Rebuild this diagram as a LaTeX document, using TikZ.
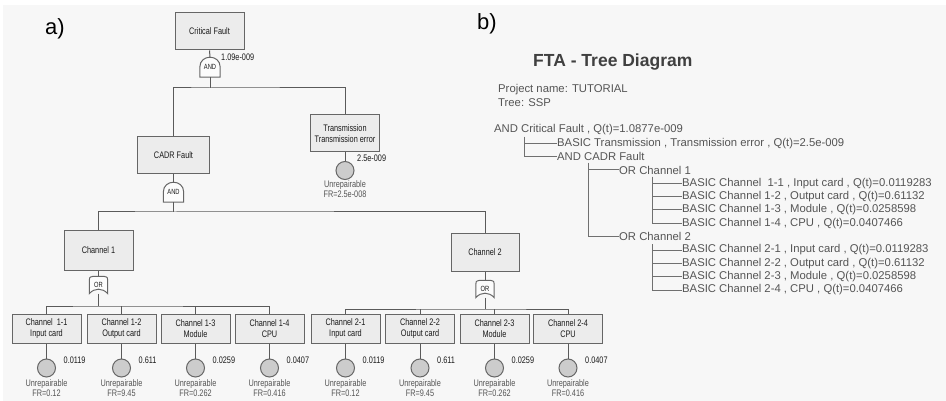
\documentclass[tikz,border=0pt]{standalone}
\usepackage{fontspec}
\setmainfont{Liberation Sans}
\newfontfamily\narrowf[FakeStretch=0.77]{Liberation Sans}
\definecolor{bgc}{HTML}{F7F7F7}
\definecolor{boxfill}{HTML}{ECECEC}
\definecolor{boxline}{HTML}{666666}
\definecolor{wire}{HTML}{5A5A5A}
\definecolor{evfill}{HTML}{CCCCCC}
\definecolor{txt}{HTML}{1A1A1A}
\definecolor{ltxt}{HTML}{555555}
\definecolor{rtxt}{HTML}{555555}
\definecolor{tline}{HTML}{707070}
\pgfdeclarelayer{back}
\pgfdeclarelayer{mid}
\pgfsetlayers{back,mid,main}
\newcommand\drawandgate[1]{%
  \draw[gateshape] (#1.south west) -- ([shift={(0,-10)}]#1.south west)
    .. controls ([shift={(0,-23.3)}]#1.south west) and ([shift={(0,-23.3)}]#1.south east) .. ([shift={(0,-10)}]#1.south east)
    -- (#1.south east) -- cycle;}
\newcommand\droworgate[1]{%
  \draw[gateshape] (#1.south west) -- ([shift={(0,4)}]#1.north west)
    .. controls ([shift={(0,1)}]#1.north west) .. ([shift={(4,0)}]#1.north west)
    -- ([shift={(-4,0)}]#1.north east)
    .. controls ([shift={(0,1)}]#1.north east) .. ([shift={(0,4)}]#1.north east)
    -- (#1.south east)
    .. controls ([shift={(-5,-6)}]#1.south east) and ([shift={(5,-6)}]#1.south west) .. (#1.south west) -- cycle;}
\tikzset{
  box/.style={draw=boxline, fill=boxfill, line width=1pt, minimum width=69, minimum height=37,
    inner sep=0, align=center, text=txt, font=\narrowf\fontsize{9.5}{11}\selectfont},
  sbox/.style={box, minimum height=29},
  gatenode/.style={minimum width=20, minimum height=20, inner sep=0, text=txt,
    font=\narrowf\fontsize{7.5}{8}\selectfont},
  ornode/.style={gatenode, minimum width=18, minimum height=17},
  gateshape/.style={draw=boxline, fill=white!60!bgc, line width=1pt},
  evt/.style={circle, draw=boxline, fill=evfill, line width=1pt, minimum size=18, inner sep=0},
  wirel/.style={draw=wire, line width=1pt},
  val/.style={anchor=west, inner sep=0, text=txt, font=\narrowf\fontsize{9.5}{10}\selectfont},
  lbl/.style={inner sep=0, align=center, text=ltxt, font=\narrowf\fontsize{9.5}{10}\selectfont},
  tree/.style={anchor=west, inner sep=0, text=rtxt, font=\fontsize{11.3}{13}\selectfont},
  treeline/.style={draw=tline, line width=1pt},
  panel/.style={anchor=west, inner sep=0, text=black, font=\fontsize{22}{24}\selectfont}
}
\begin{document}
\begin{tikzpicture}[x=1pt,y=-1pt]
\begin{pgfonlayer}{back}
  \fill[white] (0,0) rectangle (946,401);
  \fill[bgc] (3,5) rectangle (946,401);
\end{pgfonlayer}
\useasboundingbox (0,0) rectangle (946,401);

% panel labels
\node[panel] (pa) at (45,29) {a)};
\node[panel] (pb) at (477,24) {b)};

% ---------- a) fault tree ----------
\node[box] (cf) at (209.5,31.5) {Critical Fault};
\node[gatenode] (g0) at (210,67) {AND};
\node[val] (v0) at (221,57) {1.09e-009};
\coordinate (j0) at (210,88);

\node[box] (tr) at (345,133.5) {Transmission\\Transmission error};
\node[evt] (e0) at (345,170.5) {};
\node[val] (vtr) at (357,158) {2.5e-009};
\node[lbl] (ltr) at (345,189.5) {Unrepairable\\FR=2.5e-008};

\node[box, minimum width=72] (cadr) at (173.5,155) {CADR Fault};
\node[gatenode] (g1) at (173.5,192) {AND};
\coordinate (j1) at (173.5,212);

\node[box, minimum height=39] (ch1) at (98.5,250.5) {Channel 1};
\node[ornode] (g2) at (98.5,285) {OR};
\coordinate (j2) at (98.5,306);

\node[box, minimum width=68] (ch2) at (485,252.5) {Channel 2};
\node[ornode] (g3) at (485,289) {OR};
\coordinate (j3) at (485,309);

% bottom level
\foreach \n/\x/\t/\v/\fr in {
  c11/46.5/{Channel\ \ 1-1\\Input card}/0.0119/0.12,
  c12/121.5/{Channel 1-2\\Output card}/0.611/9.45,
  c13/195.5/{Channel 1-3\\Module}/0.0259/0.262,
  c14/269.5/{Channel 1-4\\CPU}/0.0407/0.416,
  c21/345.5/{Channel 2-1\\Input card}/0.0119/0.12,
  c22/420/{Channel 2-2\\Output card}/0.611/9.45,
  c23/494.5/{Channel 2-3\\Module}/0.0259/0.262,
  c24/568/{Channel 2-4\\CPU}/0.0407/0.416}{
  \node[sbox] (\n) at (\x,328.5) {\t};
  \node[evt] (e\n) at (\x,368) {};
  \node[val] (v\n) at (\x+17,360) {\v};
  \node[lbl] (l\n) at (\x,388) {Unrepairable\\FR=\fr};
  \draw[wirel] (\n.south) -- (e\n.north);
}

% wires
\draw[wirel] (cf.south) -- (g0.north);
\draw[wirel] (g0.south) -- (j0);
\draw[wirel] (cadr.north) |- (j0) -| (tr.north);
\draw[wirel] (tr.south) -- (e0.north);
\draw[wirel] (cadr.south) -- (g1.north);
\draw[wirel] (g1.south) -- (j1);
\draw[wirel] (ch1.north) |- (j1) -| (ch2.north);
\draw[wirel] (ch1.south) -- (g2.north);
\draw[wirel] (g2.south) -- (j2);
\draw[wirel] (c11.north) |- (j2) -| (c14.north);
\draw[wirel] (c12.north) -- (c12.north |- j2);
\draw[wirel] (c13.north) -- (c13.north |- j2);
\draw[wirel] (ch2.south) -- (g3.north);
\draw[wirel] (g3.south) -- (j3);
\draw[wirel] (c21.north) |- (j3) -| (c24.north);
\draw[wirel] (c22.north) -- (c22.north |- j3);
\draw[wirel] (c23.north) -- (c23.north |- j3);

\begin{pgfonlayer}{mid}
  \drawandgate{g0}
  \drawandgate{g1}
  \droworgate{g2}
  \droworgate{g3}
\end{pgfonlayer}

% ---------- b) tree listing ----------
\node[anchor=west, inner sep=0, text=black!75, font=\bfseries\fontsize{17.5}{20}\selectfont] (title) at (533,62) {FTA - Tree Diagram};
\node[tree] (pn) at (498,90) {Project name: TUTORIAL};
\node[tree] (ts) at (498,103) {Tree: SSP};

\node[tree] (t0) at (494,130) {AND Critical Fault , Q(t)=1.0877e-009};
\node[tree] (t1) at (557,143.3) {BASIC Transmission , Transmission error , Q(t)=2.5e-009};
\node[tree] (t2) at (557,156.6) {AND CADR Fault};
\node[tree] (t3) at (619,170) {OR Channel 1};
\node[tree] (t4) at (682,183.3) {BASIC Channel\ \ 1-1 , Input card , Q(t)=0.0119283};
\node[tree] (t5) at (682,196.6) {BASIC Channel 1-2 , Output card , Q(t)=0.61132};
\node[tree] (t6) at (682,210) {BASIC Channel 1-3 , Module , Q(t)=0.0258598};
\node[tree] (t7) at (682,223.3) {BASIC Channel 1-4 , CPU , Q(t)=0.0407466};
\node[tree] (t8) at (619,236.6) {OR Channel 2};
\node[tree] (t9) at (682,250) {BASIC Channel 2-1 , Input card , Q(t)=0.0119283};
\node[tree] (t10) at (682,263.3) {BASIC Channel 2-2 , Output card , Q(t)=0.61132};
\node[tree] (t11) at (682,276.6) {BASIC Channel 2-3 , Module , Q(t)=0.0258598};
\node[tree] (t12) at (682,290) {BASIC Channel 2-4 , CPU , Q(t)=0.0407466};

\coordinate (k0) at (524,137);
\coordinate (k1) at (588,163);
\coordinate (k2) at (652,177);
\coordinate (k3) at (652,244);
\draw[treeline] (k0) |- (t1.west);
\draw[treeline] (k0) |- (t2.west);
\draw[treeline] (k1) |- (t3.west);
\draw[treeline] (k1) |- (t8.west);
\foreach \t in {t4,t5,t6,t7} \draw[treeline] (k2) |- (\t.west);
\foreach \t in {t9,t10,t11,t12} \draw[treeline] (k3) |- (\t.west);
\end{tikzpicture}
\end{document}
